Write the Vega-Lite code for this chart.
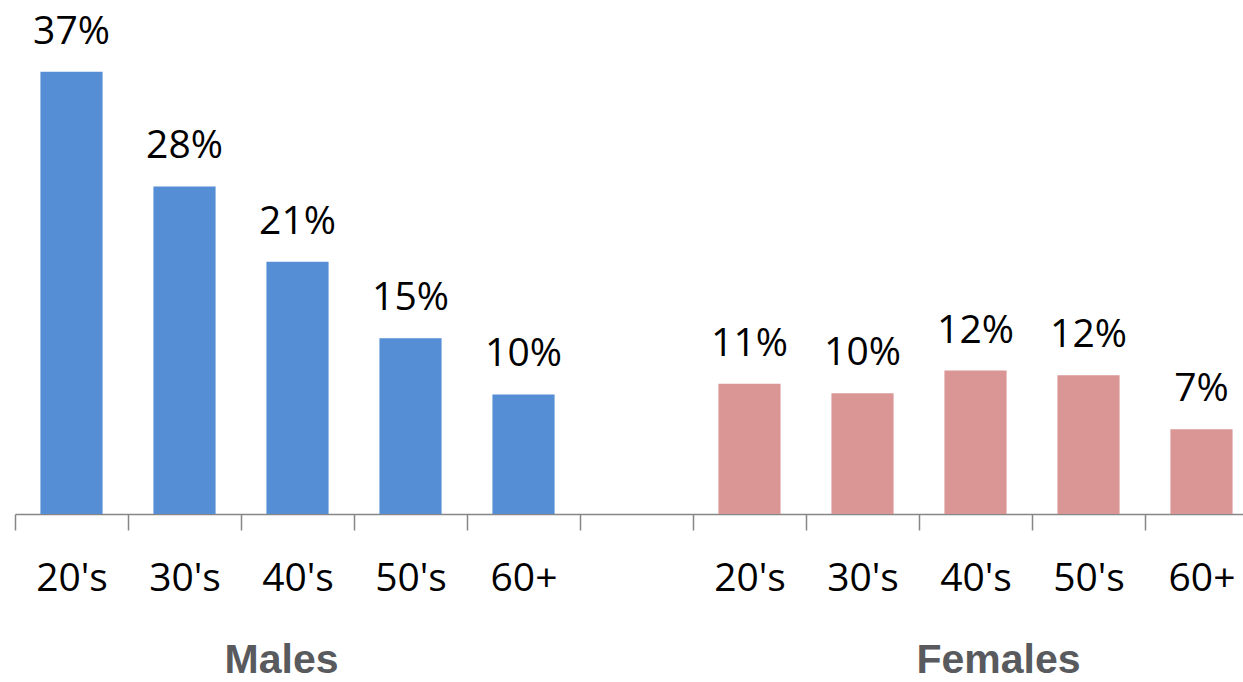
{
  "$schema": "https://vega.github.io/schema/vega-lite/v6.json",
  "width": 1243,
  "height": 514,
  "autosize": {"type": "none"},
  "padding": {"left": 0, "top": 0, "right": 0, "bottom": 168},
  "background": "white",
  "config": {"view": {"stroke": null}},
  "datasets": {
    "bars": [
      {"key": "M 20's", "group": "Males", "value": 37, "label": "37%"},
      {"key": "M 30's", "group": "Males", "value": 27.4, "label": "28%"},
      {"key": "M 40's", "group": "Males", "value": 21.1, "label": "21%"},
      {"key": "M 50's", "group": "Males", "value": 14.7, "label": "15%"},
      {"key": "M 60+", "group": "Males", "value": 10, "label": "10%"},
      {"key": "F 20's", "group": "Females", "value": 10.9, "label": "11%"},
      {"key": "F 30's", "group": "Females", "value": 10.1, "label": "10%"},
      {"key": "F 40's", "group": "Females", "value": 12, "label": "12%"},
      {"key": "F 50's", "group": "Females", "value": 11.6, "label": "12%"},
      {"key": "F 60+", "group": "Females", "value": 7.1, "label": "7%"}
    ],
    "groups": [
      {"key": "M 40's", "group": "Males"},
      {"key": "F 40's", "group": "Females"}
    ]
  },
  "encoding": {
    "x": {
      "field": "key",
      "type": "nominal",
      "sort": null,
      "scale": {
        "domain": ["M 20's", "M 30's", "M 40's", "M 50's", "M 60+", " ", "F 20's", "F 30's", "F 40's", "F 50's", "F 60+"],
        "range": [15, 1258],
        "paddingInner": 0,
        "paddingOuter": 0
      },
      "axis": {
        "title": null,
        "labelExpr": "datum.label == ' ' ? '' : substring(datum.label, 2)",
        "labelAngle": 0,
        "labelFont": "Open Sans",
        "labelFontSize": 39,
        "labelColor": "#000000",
        "labelBaseline": "alphabetic",
        "labelPadding": 60,
        "tickBand": "extent",
        "tickSize": 16,
        "tickColor": "#868686",
        "tickWidth": 1.5,
        "domainColor": "#868686",
        "domainWidth": 1.5,
        "grid": false
      }
    }
  },
  "layer": [
    {
      "data": {"name": "bars"},
      "mark": {"type": "bar", "width": {"band": 0.55}},
      "encoding": {
        "y": {"field": "value", "type": "quantitative", "scale": {"domain": [0, 43], "nice": false}, "axis": null},
        "color": {"field": "group", "type": "nominal", "scale": {"domain": ["Males", "Females"], "range": ["#558ED5", "#D99694"]}, "legend": null}
      }
    },
    {
      "data": {"name": "bars"},
      "mark": {"type": "text", "font": "Open Sans", "fontSize": 39, "baseline": "alphabetic", "dy": -28, "color": "#000000"},
      "encoding": {
        "y": {"field": "value", "type": "quantitative"},
        "text": {"field": "label"}
      }
    },
    {
      "data": {"name": "groups"},
      "transform": [{"filter": "datum.group == 'Males'"}],
      "mark": {"type": "text", "font": "Liberation Sans", "fontWeight": "bold", "fontSize": 41, "baseline": "alphabetic", "dy": 159, "dx": -16, "color": "#595A5E"},
      "encoding": {
        "y": {"datum": 0, "type": "quantitative"},
        "text": {"field": "group"}
      }
    },
    {
      "data": {"name": "groups"},
      "transform": [{"filter": "datum.group == 'Females'"}],
      "mark": {"type": "text", "font": "Liberation Sans", "fontWeight": "bold", "fontSize": 41, "baseline": "alphabetic", "dy": 159, "dx": 23, "color": "#595A5E"},
      "encoding": {
        "y": {"datum": 0, "type": "quantitative"},
        "text": {"field": "group"}
      }
    }
  ]
}
